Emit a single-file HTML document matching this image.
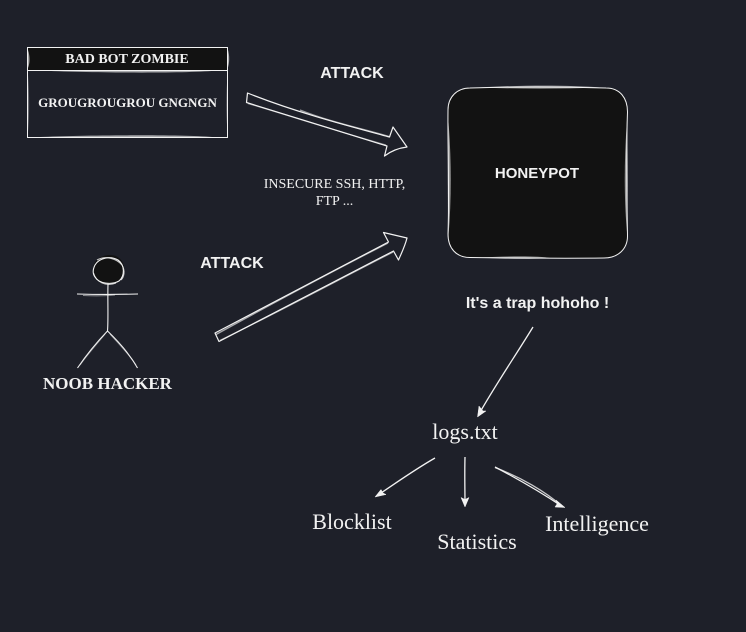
<!DOCTYPE html>
<html>
<head>
<meta charset="utf-8">
<style>
html,body{margin:0;padding:0;background:#1e2029;}
svg{display:block;}
text{fill:#f2f2f2;}
.s{font-family:"Liberation Serif",serif;}
.a{font-family:"Liberation Sans",sans-serif;font-weight:bold;}
</style>
</head>
<body>
<svg width="746" height="632" viewBox="0 0 746 632" xmlns="http://www.w3.org/2000/svg">
<rect width="746" height="632" fill="#1e2029"/>

<!-- Bad bot box -->
<rect x="28" y="48" width="200" height="22" fill="#121212"/>
<g fill="none" stroke="#f2f2f2" stroke-width="1">
<path d="M27.500 47.500H227.500V137.500H27.500Z"/>
<path d="M27.500 70.500H227.500"/>
</g>
<g fill="#f2f2f2" fill-opacity=".65" stroke="none">
<path d="M40 70.500C90 71 170 71 217 70.500C190 73.500 90 73 40 70.500Z"/>
<path d="M40 137C90 137 170 137 212 137C180 134.500 80 135 40 137Z"/>
<path d="M28 50C30 56 30 63 28 68Z"/>
<path d="M227.500 48C230 56 229.500 63 227.500 69Z"/>
<path d="M28 75C29.500 95 29.500 115 28 132Z" fill-opacity=".35"/>
<path d="M227.500 75C226 95 226 115 227.500 132Z" fill-opacity=".35"/>
</g>
<text class="s" x="127" y="63" font-size="14" font-weight="bold" text-anchor="middle">BAD BOT ZOMBIE</text>
<text class="s" x="127.500" y="107" font-size="13" font-weight="bold" text-anchor="middle">GROUGROUGROU GNGNGN</text>

<!-- Top arrow -->
<g fill="none" stroke="#f2f2f2" stroke-width="1.200" stroke-linejoin="round">
<path d="M247.500 93L246.500 102.500L387 146L384.500 156C391 151 399 148 407 147L393 127L389.500 137C345 125 295 112 247.500 93Z"/>
<path d="M300 110C330 122 360 128 389 136.500" stroke-opacity=".6" stroke-width="1.400"/>
<path d="M248 103.500C290 116 340 132 386 145" stroke-opacity=".5"/>
</g>
<text class="a" x="352" y="78" font-size="16" text-anchor="middle">ATTACK</text>

<text class="s" x="334.500" y="188" font-size="14" text-anchor="middle">INSECURE SSH, HTTP,</text>
<text class="s" x="334.500" y="205" font-size="14" text-anchor="middle">FTP ...</text>

<!-- Bottom arrow -->
<g fill="none" stroke="#f2f2f2" stroke-width="1.200" stroke-linejoin="round">
<path d="M215 333L219 341.500L393.500 251L398.500 260C402 252 405 246 407 238L383.500 232.500L388.500 242Z"/>
<path d="M216 334.500C275 302 335 270 388 243" stroke-opacity=".65" stroke-width="1.400"/>
<path d="M220 340.500C280 311 340 279 393 252" stroke-opacity=".65" stroke-width="1.400"/>
</g>
<text class="a" x="232" y="268" font-size="16" text-anchor="middle">ATTACK</text>

<!-- Honeypot -->
<path d="M470 88C520 86.500 570 87 606 88C620 88 627.500 98 627.500 112C626 150 627 200 627.500 236C627.500 249 618 258 604 258C560 258.500 510 258 470 257.500C456 257.500 448 248 448 234C449.500 190 447.500 150 448 110C448 97 457 88 470 88Z" fill="#121212" stroke="#f2f2f2" stroke-width="1"/>
<g fill="#f2f2f2" fill-opacity=".6" stroke="none">
<path d="M480 87.500C520 85 570 85 600 87.500C560 89 520 89 480 87.500Z"/>
<path d="M448.500 122C451.500 160 451.500 200 448.500 236C447.500 200 447.500 160 448.500 122Z"/>
<path d="M627 120C624 160 624 200 627 232C628 200 628 160 627 120Z"/>
<path d="M482 257.500C510 256 540 256 550 258C530 259.500 500 259 482 257.500Z"/>
</g>
<text class="a" x="537" y="178" font-size="15" text-anchor="middle">HONEYPOT</text>
<text class="a" x="537.500" y="308" font-size="16" text-anchor="middle">It's a trap hohoho !</text>

<!-- Stick figure -->
<path d="M93 270C93 260 101 255 110 255C120 255 125 263 124 271C123 279 116 284 107 284C99 284 93 279 93 270Z" fill="#121212"/>
<g fill="none" stroke="#f2f2f2" stroke-width="1.100">
<path d="M95 265C99 258 110 255.500 118 260C125 265 125 276 119 281C112 285 99 284 95 277C92 273 93 269 95 265Z"/>
<path d="M97 260C105 255.500 116 258 122 265C125.500 271 124 277 121 280M93.500 273C96 282 106 287 116 283" stroke-opacity=".8"/>
<path d="M108 284C107.500 300 108.500 318 107.500 331"/>
<path d="M77 294C95 294.500 120 294.500 138 294"/>
<path d="M83 295.500C95 296 105 296 115 295" stroke-opacity=".5"/>
<path d="M107.500 331C97 342 87 354 77.500 368"/>
<path d="M105 334C96 345 87 355 80 365" stroke-opacity=".5"/>
<path d="M107.500 331C118 341 129 353 137.500 368"/>
<path d="M110 334C119 344 129 354 136 365" stroke-opacity=".5"/>
</g>
<text class="s" x="107.500" y="389" font-size="17" font-weight="bold" text-anchor="middle">NOOB HACKER</text>

<!-- Small arrows -->
<g fill="none" stroke="#f2f2f2" stroke-width="1.300">
<path d="M533 327C514 358 496 384 479 414"/>
<path d="M435 458C414 470 396 483 378 495"/>
<path d="M465 457C464.500 475 465 490 465 504"/>
<path d="M495 467C518 479 542 493 563 507"/>
<path d="M495 467.500C520 477 545 491 563 507" stroke-opacity=".8"/>
</g>
<g fill="#f2f2f2" stroke="#f2f2f2" stroke-width=".5">
<path d="M477.500 417L479 406L483 411L486 411Z"/>
<path d="M375 497L381 489.500L383 493L386 494.500Z"/>
<path d="M465 507L461 497.500L465 499.500L469 497.500Z"/>
<path d="M565 507.500L555 507L557 504L556 500Z"/>
</g>

<text class="s" x="465" y="439" font-size="22" text-anchor="middle">logs.txt</text>
<text class="s" x="352" y="529" font-size="22" text-anchor="middle">Blocklist</text>
<text class="s" x="477" y="549" font-size="22" text-anchor="middle">Statistics</text>
<text class="s" x="597" y="531" font-size="22" text-anchor="middle">Intelligence</text>
</svg>
</body>
</html>
